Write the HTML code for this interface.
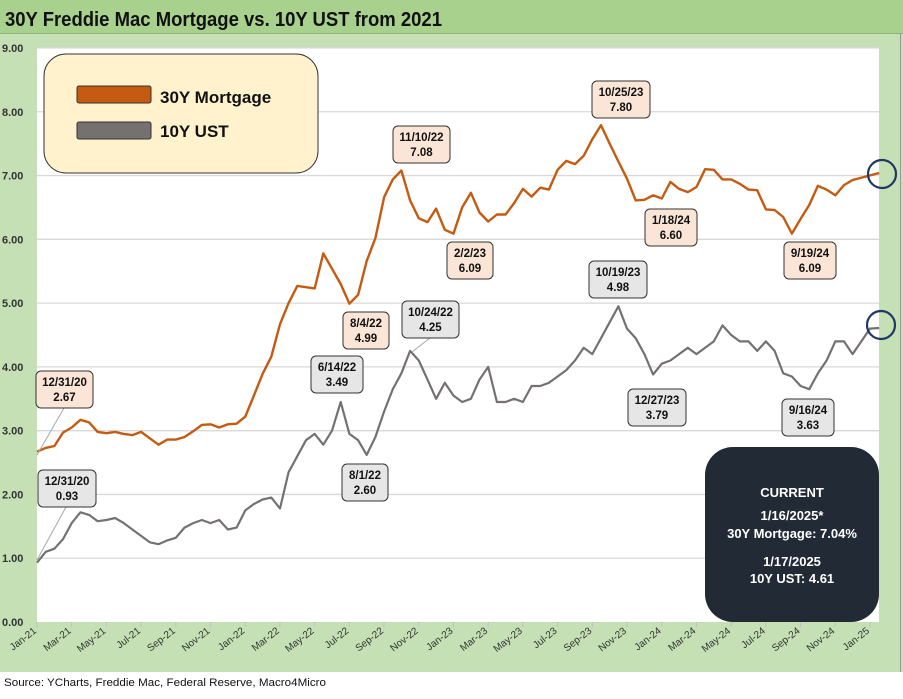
<!DOCTYPE html>
<html><head><meta charset="utf-8">
<style>
body{margin:0;width:903px;height:694px;overflow:hidden;background:#fff;font-family:"Liberation Sans",sans-serif;}
svg text{font-family:"Liberation Sans",sans-serif;}
</style></head>
<body>
<svg width="903" height="694" viewBox="0 0 903 694">
<rect x="0" y="0" width="903" height="672" fill="#c5e0b4"/>
<rect x="0" y="0" width="903" height="33" fill="#a9d18e"/>
<line x1="0" y1="33.5" x2="903" y2="33.5" stroke="#8fb479"/>
<text x="5" y="26" font-size="20" font-weight="bold" fill="#111" textLength="437" lengthAdjust="spacingAndGlyphs">30Y Freddie Mac Mortgage vs. 10Y UST from 2021</text>
<rect x="37" y="48" width="842" height="574" fill="#fff"/>
<line x1="900.5" y1="33" x2="900.5" y2="672" stroke="#9a9a9a"/>
<g id="grid"></g>
<g id="yticks"></g>
<g id="xticks"></g>
<g id="series"></g>
<g id="notes"></g>

<g>
<rect x="44" y="54" width="274" height="119" rx="22" fill="#fff2cc" stroke="#333" stroke-width="1"/>
<rect x="77" y="86" width="74" height="17" rx="2" fill="#c55a11" stroke="#333"/>
<text x="160" y="103" font-size="17" font-weight="bold" fill="#111">30Y Mortgage</text>
<rect x="77" y="122" width="74" height="17" rx="2" fill="#767171" stroke="#333"/>
<text x="160" y="137" font-size="17" font-weight="bold" fill="#111">10Y UST</text>
</g>

<g>
<rect x="705" y="447" width="174" height="175" rx="28" fill="#222a35"/>
<g fill="#fff" font-size="13" font-weight="bold" text-anchor="middle">
<text x="792" y="497">CURRENT</text>
<text x="792" y="520">1/16/2025*</text>
<text x="792" y="538">30Y Mortgage: 7.04%</text>
<text x="792" y="566">1/17/2025</text>
<text x="792" y="583">10Y UST: 4.61</text>
</g></g>

<circle cx="882" cy="174" r="14" fill="none" stroke="#1f3864" stroke-width="2.2"/>
<circle cx="881" cy="325" r="14" fill="none" stroke="#1f3864" stroke-width="2.2"/>

<text x="4" y="686" font-size="11" fill="#111" textLength="322" lengthAdjust="spacingAndGlyphs">Source: YCharts, Freddie Mac, Federal Reserve, Macro4Micro</text>
</svg>
<script>
const yTicks=["0.00","1.00","2.00","3.00","4.00","5.00","6.00","7.00","8.00","9.00"];
const xLabels=["Jan-21","Mar-21","May-21","Jul-21","Sep-21","Nov-21","Jan-22","Mar-22","May-22","Jul-22","Sep-22","Nov-22","Jan-23","Mar-23","May-23","Jul-23","Sep-23","Nov-23","Jan-24","Mar-24","May-24","Jul-24","Sep-24","Nov-24","Jan-25"];
// semi-monthly readings starting Jan 2021
const mortgage=[2.67,2.73,2.76,2.97,3.05,3.17,3.13,2.98,2.96,2.98,2.95,2.93,2.98,2.88,2.78,2.86,2.86,2.9,2.99,3.09,3.1,3.05,3.1,3.11,3.22,3.55,3.89,4.16,4.67,5.0,5.27,5.25,5.23,5.78,5.54,5.3,4.99,5.13,5.66,6.02,6.66,6.94,7.08,6.61,6.33,6.27,6.48,6.15,6.09,6.5,6.73,6.42,6.28,6.39,6.39,6.57,6.79,6.67,6.81,6.78,7.09,7.23,7.18,7.31,7.57,7.79,7.5,7.22,6.95,6.61,6.62,6.69,6.64,6.9,6.79,6.74,6.82,7.1,7.09,6.94,6.94,6.87,6.78,6.77,6.47,6.46,6.35,6.09,6.32,6.54,6.84,6.78,6.69,6.85,6.93,7.04];
const ust=[0.93,1.1,1.15,1.3,1.55,1.72,1.68,1.58,1.6,1.63,1.55,1.45,1.35,1.25,1.22,1.28,1.32,1.48,1.55,1.6,1.55,1.6,1.45,1.48,1.75,1.85,1.92,1.95,1.78,2.35,2.6,2.85,2.95,2.78,3.0,3.45,2.95,2.85,2.62,2.9,3.3,3.65,3.9,4.25,4.1,3.8,3.5,3.75,3.55,3.45,3.5,3.8,4.0,3.45,3.45,3.5,3.45,3.7,3.7,3.75,3.85,3.95,4.1,4.3,4.2,4.45,4.7,4.95,4.6,4.45,4.2,3.88,4.05,4.1,4.2,4.3,4.2,4.3,4.4,4.65,4.5,4.4,4.4,4.25,4.4,4.25,3.9,3.85,3.7,3.65,3.9,4.1,4.4,4.4,4.2,4.4,4.6,4.61];
const notes=[
 {t:"12/31/20",v:"2.67",c:"m",x:36,y:371,w:57,lx:37,ly:455,ax:64,ay:408},
 {t:"12/31/20",v:"0.93",c:"u",x:38,y:470,w:58,lx:37,ly:560,ax:66,ay:507},
 {t:"6/14/22",v:"3.49",c:"u",x:311,y:356,w:52},
 {t:"8/4/22",v:"4.99",c:"m",x:343,y:312,w:46},
 {t:"10/24/22",v:"4.25",c:"u",x:402,y:301,w:57,lx:412,ly:352,ax:430,ay:338},
 {t:"8/1/22",v:"2.60",c:"u",x:342,y:464,w:46},
 {t:"11/10/22",v:"7.08",c:"m",x:393,y:126,w:57},
 {t:"2/2/23",v:"6.09",c:"m",x:447,y:242,w:46},
 {t:"10/25/23",v:"7.80",c:"m",x:592,y:81,w:58},
 {t:"10/19/23",v:"4.98",c:"u",x:589,y:261,w:58},
 {t:"1/18/24",v:"6.60",c:"m",x:645,y:209,w:52},
 {t:"12/27/23",v:"3.79",c:"u",x:628,y:389,w:58},
 {t:"9/19/24",v:"6.09",c:"m",x:784,y:242,w:52},
 {t:"9/16/24",v:"3.63",c:"u",x:782,y:399,w:52}];
const NS="http://www.w3.org/2000/svg";
const X0=37,PXM=833/48,Y0=622,PXV=574/9;
const xs=m=>X0+m*PXM, ys=v=>Y0-v*PXV;
function mk(tag,at,parent){const e=document.createElementNS(NS,tag);for(const k in at)e.setAttribute(k,at[k]);document.getElementById(parent).appendChild(e);return e;}
yTicks.forEach((t,i)=>{
 const v=parseFloat(t);
 if(i>0){const g=mk("line",{x1:X0,x2:879,y1:ys(v),y2:ys(v),stroke:"#d9d9d9","stroke-width":1.3},"grid");
 
 }
 const tx=mk("text",{x:2,y:ys(v)+4,"font-size":11,"font-weight":"bold",fill:"#333"},"yticks");
 tx.textContent=t;
 
 
});
xLabels.forEach((t,i)=>{
 const x=xs(i*2);
 mk("line",{x1:x,x2:x,y1:622,y2:627,stroke:"#bfbfbf"},"xticks");
 const tx=mk("text",{x:x,y:632,"font-size":10,fill:"#333","text-anchor":"end",transform:`rotate(-38 ${x} 632)`},"xticks");
 tx.textContent=t;
 
 
});
function line(arr,col,name,w){
 const last=(16.5/31);
 const d=arr.map((v,i)=>{const m=i===arr.length-1?48+last:i/2;return (i?"L":"M")+xs(m).toFixed(1)+","+ys(v).toFixed(1);}).join("");
 const p=mk("path",{d:d,fill:"none",stroke:col,"stroke-width":w,"stroke-linejoin":"round"},"series");
 
 
}
line(ust,"#767171","ust-line",2.2);
line(mortgage,"#c55a11","mortgage-line",2.4);
notes.forEach(n=>{
 if(n.lx){const l=mk("line",{x1:n.ax,y1:n.ay,x2:n.lx,y2:n.ly,stroke:"#a6a6a6","stroke-width":1},"notes");
 
 }
 const r=mk("rect",{x:n.x,y:n.y,width:n.w,height:37,rx:5,fill:n.c==="m"?"#fbe5d6":"#e7e6e6",stroke:"#333","stroke-width":1},"notes");
 
 
 const cx=n.x+n.w/2;
 const a=mk("text",{x:cx,y:n.y+15,"font-size":11.5,"font-weight":"bold",fill:"#111","text-anchor":"middle"},"notes");
 a.textContent=n.t;
 
 
 const b=mk("text",{x:cx,y:n.y+30,"font-size":11.5,"font-weight":"bold",fill:"#111","text-anchor":"middle"},"notes");
 b.textContent=n.v;
 
 
});
</script>
</body></html>
